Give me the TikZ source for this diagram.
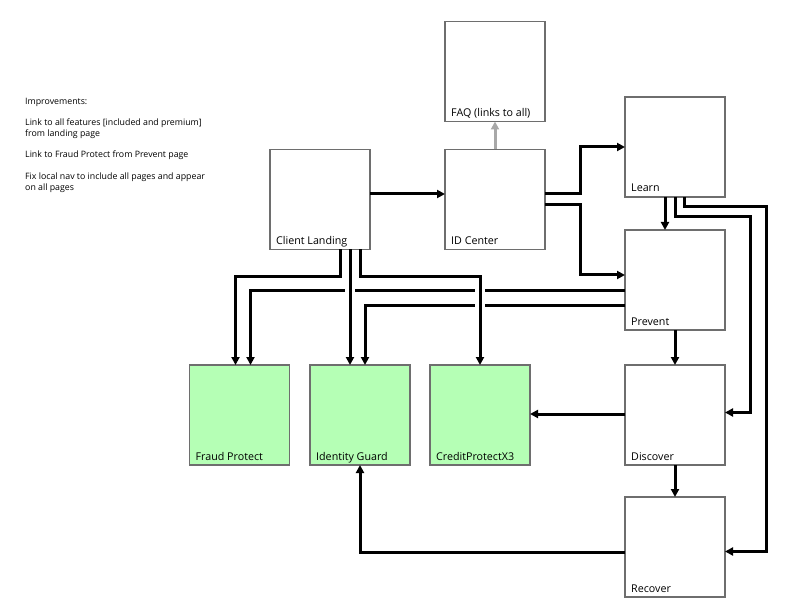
\documentclass[tikz,border=0pt]{standalone}
\usepackage{fontspec}
\setmainfont{Open Sans}
\usetikzlibrary{arrows.meta,calc}
\definecolor{boxgray}{HTML}{6E6E6E}
\definecolor{featgreen}{HTML}{B5FFB5}
\definecolor{faqgray}{HTML}{A8A8A8}
\begin{document}
\begin{tikzpicture}[x=1pt,y=-1pt,
  page/.style={draw=boxgray, line width=1.5pt, fill=white, minimum width=100pt, minimum height=100pt, inner sep=0pt, outer sep=0pt},
  feature/.style={page, fill=featgreen},
  pagelabel/.style={anchor=base west, inner sep=0pt, font=\fontsize{10.7}{12}\selectfont},
  link/.style={draw=black, line width=3pt, -{Triangle[length=8pt,width=8pt]}},
  crosslink/.style={link, preaction={draw=white, line width=10pt, shorten <=2pt, shorten >=10pt, -}},
  faqlink/.style={draw=faqgray, line width=3pt, -{Triangle[length=8pt,width=8pt]}},
  note/.style={anchor=base west, inner sep=0pt, align=left, font=\fontsize{8.8}{10.7}\selectfont}
]
\useasboundingbox (0,0) rectangle (792,612);

% pages
\node[page] (cl) at (320,199.5) {};
\node[page] (id) at (495,199.5) {};
\node[page] (faq) at (495,71.5) {};
\node[page] (learn) at (675,147) {};
\node[page] (prevent) at (675,280) {};
\node[page] (discover) at (675,415) {};
\node[page] (recover) at (675,547) {};
\node[feature] (fp) at (239.5,415) {};
\node[feature] (ig) at (360,415) {};
\node[feature] (cp) at (480,415) {};

% labels
\node[pagelabel] (clt) at ($(cl.south west)+(6,-5)$) {Client Landing};
\node[pagelabel] (idt) at ($(id.south west)+(6,-5)$) {ID Center};
\node[pagelabel] (faqt) at ($(faq.south west)+(6,-5)$) {FAQ (links to all)};
\node[pagelabel] (learnt) at ($(learn.south west)+(6,-5)$) {Learn};
\node[pagelabel] (preventt) at ($(prevent.south west)+(6,-5)$) {Prevent};
\node[pagelabel] (discovert) at ($(discover.south west)+(6,-5)$) {Discover};
\node[pagelabel] (recovert) at ($(recover.south west)+(6,-5)$) {Recover};
\node[pagelabel] (fpt) at ($(fp.south west)+(6,-5)$) {Fraud Protect};
\node[pagelabel] (igt) at ($(ig.south west)+(6,-5)$) {Identity Guard};
\node[pagelabel] (cpt) at ($(cp.south west)+(6,-5)$) {CreditProtectX3};

% notes
\node[note] (notes) at (25,190.1) {Improvements:\\[10.7pt]
Link to all features [included and premium]\\
from landing page\\[10.7pt]
Link to Fraud Protect from Prevent page\\[10.7pt]
Fix local nav to include all pages and appear\\
on all pages};

% connectors
\draw[link] ($(cl.north east)+(0,44.5)$) -- ($(id.north west)+(0,44.5)$);
\draw[faqlink] (id.north) -- (faq.south);
\draw[link] ($(id.north east)+(0,44.5)$) -- ++(35,0) |- (learn.west);
\draw[link] ($(id.north east)+(0,55)$) -- ++(35,0) |- ($(prevent.north west)+(0,45)$);
\draw[link] ($(learn.south west)+(40,0)$) -- ($(prevent.north west)+(40,0)$);
\draw[link] ($(learn.south west)+(50,0)$) -- ++(0,20) -- ++(75,0) |- ($(discover.north east)+(0,47.5)$);
\draw[link] ($(learn.south west)+(59.5,0)$) -- ++(0,10) -- ++(81.5,0) |- ($(recover.north east)+(0,54.5)$);
\draw[link] (prevent.south) -- (discover.north);
\draw[link] (discover.south) -- (recover.north);
\draw[link] ($(discover.north west)+(0,49)$) -- ($(cp.north east)+(0,49)$);
\draw[link] ($(recover.north west)+(0,55)$) -| (ig.south);

% Prevent to features (drawn first, crossed with gaps)
\draw[link] ($(prevent.north west)+(0,60)$) -| ($(fp.north west)+(61,0)$);
\draw[link] ($(prevent.north west)+(0,75)$) -| ($(ig.north west)+(55,0)$);

% Client Landing to features
\draw[link] ($(cl.south west)+(70,0)$) -- ++(0,27) -| ($(fp.north west)+(46,0)$);
\draw[crosslink] ($(cl.south west)+(80,0)$) -- ($(ig.north west)+(40,0)$);
\draw[crosslink] ($(cl.south west)+(90,0)$) -- ++(0,27) -| (cp.north);
\end{tikzpicture}
\end{document}
